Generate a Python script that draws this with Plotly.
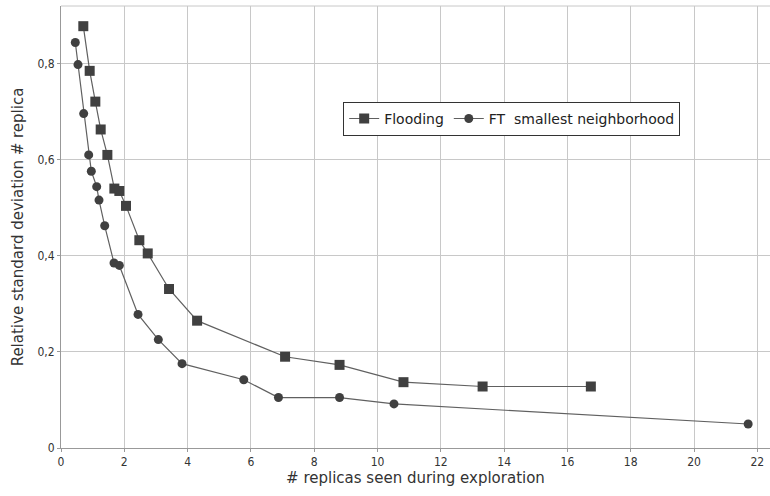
import plotly.graph_objects as go

flood_x = [0.705, 0.906, 1.085, 1.254, 1.465, 1.686, 1.843, 2.054, 2.475, 2.74, 3.413, 4.30, 7.08, 8.80, 10.82, 13.32, 16.74]
flood_y = [0.878, 0.785, 0.721, 0.663, 0.610, 0.540, 0.535, 0.504, 0.4325, 0.405, 0.331, 0.265, 0.190, 0.173, 0.137, 0.128, 0.128]

ft_x = [0.452, 0.537, 0.717, 0.875, 0.958, 1.128, 1.201, 1.381, 1.675, 1.843, 2.434, 3.075, 3.824, 5.774, 6.87, 8.80, 10.52, 21.71]
ft_y = [0.844, 0.798, 0.696, 0.610, 0.576, 0.544, 0.516, 0.4625, 0.385, 0.380, 0.278, 0.2256, 0.1756, 0.142, 0.105, 0.105, 0.0917, 0.050]

x_ticks = [0, 2, 4, 6, 8, 10, 12, 14, 16, 18, 20, 22]
y_ticks = [0, 0.2, 0.4, 0.6, 0.8]
y_labels = ["0", "0,2", "0,4", "0,6", "0,8"]

line_col = "#606060"
mark_col = "#404040"
font = "DejaVu Sans Condensed, DejaVu Sans, sans-serif"

fig = go.Figure()
fig.add_trace(go.Scatter(
    x=flood_x, y=flood_y, name="Flooding", mode="lines+markers",
    line=dict(color=line_col, width=1.2),
    marker=dict(symbol="square", size=10, color=mark_col),
))
fig.add_trace(go.Scatter(
    x=ft_x, y=ft_y, name="FT  smallest neighborhood", mode="lines+markers",
    line=dict(color=line_col, width=1.2),
    marker=dict(symbol="circle", size=9, color=mark_col),
))

fig.update_layout(
    width=770, height=496,
    margin=dict(l=61, r=0, t=6, b=48),
    paper_bgcolor="white", plot_bgcolor="white",
    font=dict(family=font, size=12, color="#333333"),
    legend=dict(
        orientation="h", x=0.398, y=0.783, xanchor="left", yanchor="top",
        bordercolor="#333333", borderwidth=1, bgcolor="white",
        font=dict(family="DejaVu Sans, sans-serif", size=14, color="#222222"),
        itemwidth=30, tracegroupgap=0,
    ),
    showlegend=True,
)
fig.update_xaxes(
    range=[0, 22.4], tickvals=x_ticks, ticktext=[str(v) for v in x_ticks],
    showgrid=True, gridcolor="#c8c8c8", gridwidth=1,
    showline=True, linecolor="#999999", linewidth=1,
    ticks="outside", ticklen=3, tickcolor="#999999",
    zeroline=False, mirror=False, automargin=False,
    title=dict(text="# replicas seen during exploration", font=dict(size=15, family="DejaVu Sans, sans-serif"), standoff=4),
    tickfont=dict(size=12),
)
fig.update_yaxes(
    range=[0, 0.92], tickvals=y_ticks, ticktext=y_labels,
    showgrid=True, gridcolor="#c8c8c8", gridwidth=1,
    showline=True, linecolor="#999999", linewidth=1,
    ticks="outside", ticklen=3, tickcolor="#999999",
    zeroline=False, automargin=False,
    title=dict(text="Relative standard deviation # replica", font=dict(size=15, family="DejaVu Sans, sans-serif"), standoff=10),
    tickfont=dict(size=12),
)
fig.add_shape(type="line", xref="paper", yref="paper", x0=0, x1=1, y0=1, y1=1,
              line=dict(color="#c8c8c8", width=1))

fig.write_html("out.html", config={"displayModeBar": False},
               post_script="document.body.style.margin='0';document.body.style.overflow='hidden';")
